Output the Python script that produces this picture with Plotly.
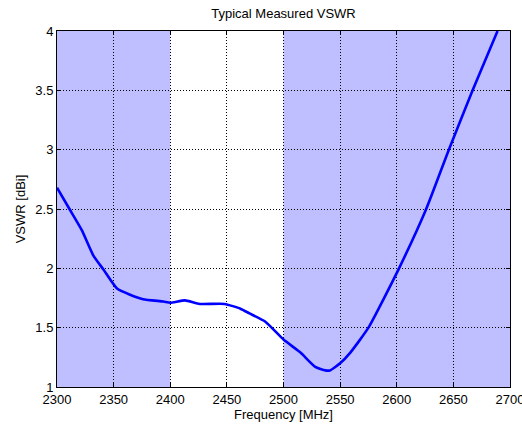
import plotly.graph_objects as go

freq = [2300, 2311, 2322, 2332, 2341, 2353, 2364, 2376, 2394, 2400, 2413, 2426,
        2448, 2462, 2470, 2484, 2500, 2515, 2528, 2537, 2541, 2550, 2559, 2575,
        2602, 2626, 2646, 2667, 2689]
vswr = [2.68, 2.50, 2.32, 2.11, 1.99, 1.83, 1.78, 1.74, 1.72, 1.71, 1.73, 1.70,
        1.70, 1.66, 1.62, 1.55, 1.40, 1.29, 1.17, 1.14, 1.14, 1.20, 1.29, 1.50,
        2.00, 2.50, 3.00, 3.50, 4.00]

band_start = [2300, 2500]
band_end = [2400, 2700]

x_ticks = [2300, 2350, 2400, 2450, 2500, 2550, 2600, 2650, 2700]
y_ticks = [1, 1.5, 2, 2.5, 3, 3.5, 4]
y_tick_text = ["1", "1.5", "2", "2.5", "3", "3.5", "4"]

fig = go.Figure()
fig.add_trace(go.Scatter(x=freq, y=vswr, mode="lines",
                         line=dict(color="#0000FF", width=2.6, shape="spline", smoothing=0.5),
                         showlegend=False, hoverinfo="skip"))

for s, e in zip(band_start, band_end):
    fig.add_shape(type="rect", xref="x", yref="paper", x0=s, x1=e, y0=0, y1=1,
                  fillcolor="#BFBFFF", line=dict(width=0), layer="below")

font = "Liberation Sans, Arial, sans-serif"
axis_common = dict(showline=True, linecolor="black", linewidth=1, mirror="ticks",
                   ticks="inside", ticklen=4, tickcolor="black",
                   showgrid=True, gridcolor="#000000", gridwidth=1, griddash="1px,2px",
                   zeroline=False, ticklabeloverflow="allow", automargin=False,
                   tickfont=dict(family=font, size=13, color="black"))

fig.update_layout(
    width=522, height=427,
    margin=dict(l=57, r=12, t=31, b=40, autoexpand=False),
    paper_bgcolor="white", plot_bgcolor="white",
    title=dict(text="Typical Measured VSWR", x=0.5, xanchor="center", xref="paper",
               y=1, yref="container", yanchor="top", pad=dict(t=9),
               font=dict(family=font, size=13, color="black")),
    xaxis=dict(range=[2300, 2700], tickvals=x_ticks,
               title=dict(text="Frequency [MHz]", font=dict(family=font, size=13, color="black"), standoff=1),
               **axis_common),
    yaxis=dict(range=[1, 4], tickvals=y_ticks, ticktext=y_tick_text,
               title=dict(text="VSWR [dBi]", font=dict(family=font, size=13, color="black"), standoff=6),
               **axis_common),
)

fig.write_html("out.html", config={"displayModeBar": False},
               post_script="document.body.style.margin='0px';")
